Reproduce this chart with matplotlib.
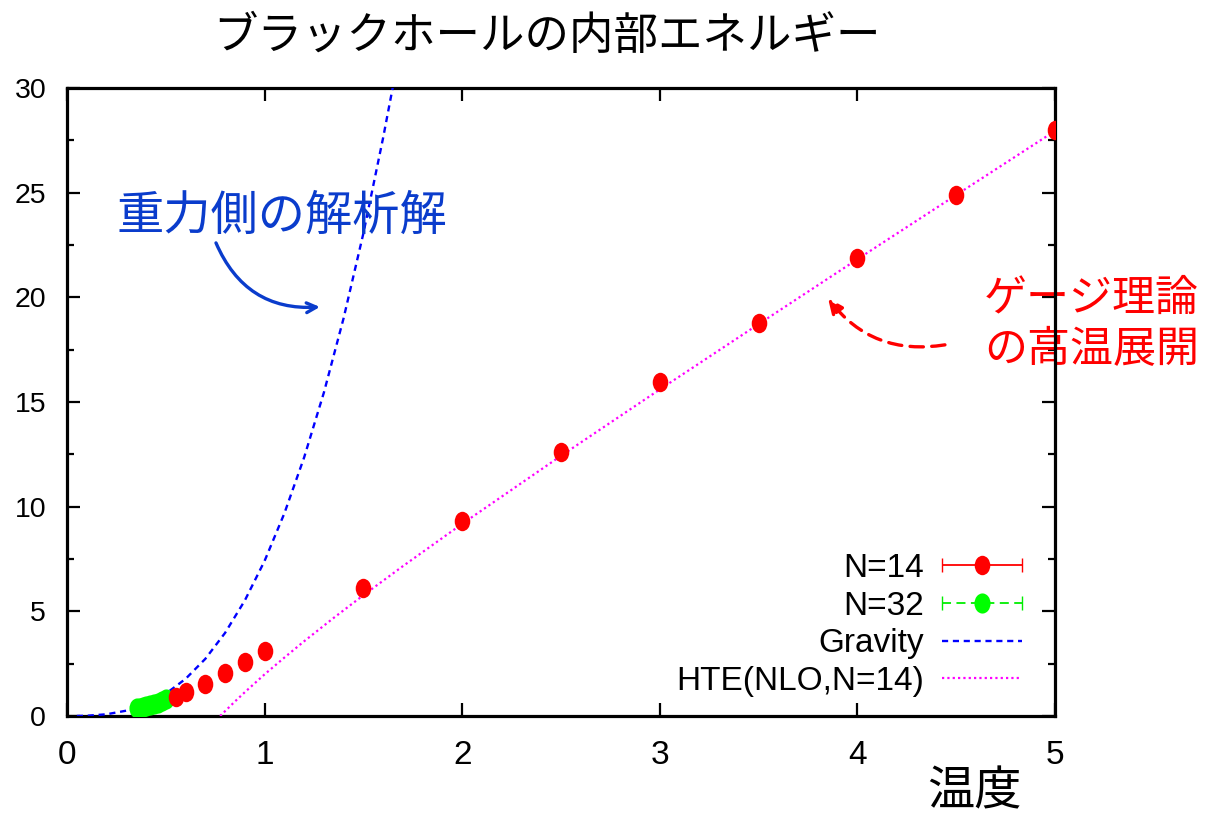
"""Internal energy of the black hole vs temperature: lattice data, gravity and HTE curves."""

import matplotlib
matplotlib.use("Agg")
import matplotlib.pyplot as plt
from matplotlib.path import Path
from matplotlib.legend_handler import HandlerErrorbar
from matplotlib.container import ErrorbarContainer
from matplotlib.ticker import MultipleLocator

JP_FONT = ["Noto Sans CJK JP", "DejaVu Sans"]
NARROW = ["Liberation Sans Narrow", "Liberation Sans", "DejaVu Sans"]
PLAIN = ["Liberation Sans", "DejaVu Sans"]

# lattice results
temp_n14 = [0.55, 0.6, 0.7, 0.8, 0.9, 1.0, 1.5, 2.0, 2.5, 3.0, 3.5, 4.0, 4.5, 5.0]
energy_n14 = [0.92, 1.16, 1.53, 2.04, 2.56, 3.12, 6.1, 9.32, 12.6, 15.94, 18.76, 21.87, 24.89, 27.97]

temp_n32 = [0.355, 0.37, 0.385, 0.40, 0.42, 0.44, 0.46, 0.48, 0.50]
energy_n32 = [0.36, 0.40, 0.44, 0.48, 0.53, 0.58, 0.64, 0.71, 0.79]

# gravity-side analytic curve
temp_grav = [0.05, 0.1, 0.2, 0.3, 0.4, 0.5, 0.6, 0.7, 0.8, 0.9, 1.0,
             1.1, 1.2, 1.3, 1.4, 1.5, 1.6, 1.65, 1.7]
energy_grav = [0.002, 0.012, 0.082, 0.255, 0.569, 1.064, 1.773, 2.73, 3.97, 5.52, 7.41,
               9.68, 12.35, 15.45, 19.01, 23.06, 27.63, 30.1, 32.8]

# high temperature expansion (NLO, N=14)
temp_hte = [0.775, 0.85, 0.9, 1.0, 1.1, 1.2, 1.35, 1.5, 1.7, 2.0, 2.5, 3.0, 3.5, 4.0, 4.5, 5.0]
energy_hte = [0.0, 0.695, 1.138, 1.99, 2.79, 3.57, 4.69, 5.77, 7.16, 9.18, 12.43, 15.6,
              18.72, 21.82, 24.89, 27.95]

x_ticks = [0, 1, 2, 3, 4, 5]
y_ticks = [0, 5, 10, 15, 20, 25, 30]

# slightly tall ellipse for the data points
_circle = Path.unit_circle()
DOT = Path(_circle.vertices * [0.8, 1.0], _circle.codes)

fig = plt.figure(figsize=(12.25, 8.16), dpi=100)
ax = fig.add_axes([67 / 1225, 1 - 716 / 816, (1055 - 67) / 1225, (716 - 88) / 816])

# horizontal error bars (zero width at the points, caps hidden under the dots)
eb32 = ax.errorbar(temp_n32, energy_n32, xerr=[0.0] * len(temp_n32), fmt="none",
                   ecolor="#00ee00", elinewidth=1.3, capsize=5, zorder=4)
eb14 = ax.errorbar(temp_n14, energy_n14, xerr=[0.0] * len(temp_n14), fmt="none",
                   ecolor="#ff0000", elinewidth=1.3, capsize=5, zorder=4)
eb32[2][0].set_linestyle((0, (5, 3)))

grav, = ax.plot(temp_grav, energy_grav, color="#0000ff", linewidth=1.7,
                linestyle=(0, (2.6, 2.0)), zorder=3)
hte, = ax.plot(temp_hte, energy_hte, color="#ff00ff", linewidth=1.6,
               linestyle=(0, (1, 1.4)), zorder=3)

dots32, = ax.plot(temp_n32, energy_n32, linestyle="none", marker=DOT, markersize=14.5,
                  color="#00ff00", markeredgewidth=0, zorder=5)
dots14, = ax.plot(temp_n14, energy_n14, linestyle="none", marker=DOT, markersize=14,
                  color="#ff0000", markeredgewidth=0, zorder=5)

# legend entries: bar with caps plus the dot
h14 = ErrorbarContainer((dots14, eb14[1], eb14[2]), has_xerr=True, has_yerr=False)
h32 = ErrorbarContainer((dots32, eb32[1], eb32[2]), has_xerr=True, has_yerr=False)

leg = ax.legend([h14, h32, grav, hte], ["N=14", "N=32", "Gravity", "HTE(NLO,N=14)"],
                loc="lower right", bbox_to_anchor=(1022 / 1225, 1 - 697 / 816),
                bbox_transform=fig.transFigure, frameon=False, markerfirst=False,
                handlelength=2.4, handletextpad=0.55, labelspacing=0.2,
                borderpad=0.0, borderaxespad=0.0,
                prop={"family": NARROW, "size": 24},
                handler_map={ErrorbarContainer: HandlerErrorbar(numpoints=1, xerr_size=1.2)})

ax.set_xlim(0, 5)
ax.set_ylim(0, 30)
ax.set_xticks(x_ticks, [str(v) for v in x_ticks], fontsize=24, family=NARROW)
ax.set_yticks(y_ticks, [str(v) for v in y_ticks], fontsize=20.5, family=PLAIN)
ax.yaxis.set_minor_locator(MultipleLocator(2.5))

ax.tick_params(axis="both", which="both", direction="in", top=True, right=True,
               color="black")
ax.tick_params(axis="both", which="major", length=9.5, width=1.6)
ax.tick_params(axis="both", which="minor", length=5, width=1.6)
ax.tick_params(axis="y", pad=15)
ax.tick_params(axis="x", pad=17)

for spine in ax.spines.values():
    spine.set_linewidth(2.3)

fig.text(547 / 1225, 1 - 36 / 816, "ブラックホールの内部エネルギー", family=JP_FONT,
         fontsize=32, ha="center", va="center")
fig.text(974 / 1225, 1 - 792 / 816, "温度", family=JP_FONT, fontsize=34,
         ha="center", va="center")

# gravity label with curved arrow
ax.text(0.253, 23.85, "重力側の解析解", family=JP_FONT, fontsize=34,
        color="#0a3ccc", ha="left", va="center")
ax.annotate("", xy=(1.28, 19.54), xytext=(0.754, 22.6),
            arrowprops=dict(arrowstyle="->,head_length=0.7,head_width=0.35",
                            color="#0a3ccc", linewidth=2.4,
                            connectionstyle="arc3,rad=0.35", shrinkA=0, shrinkB=0))

# HTE label with dashed arrow
ax.text(4.64, 18.72, "ゲージ理論\nの高温展開", family=JP_FONT, fontsize=31,
        color="#ff0000", ha="left", va="center", linespacing=1.22,
        clip_on=False, zorder=2)
ax.annotate("", xy=(3.851, 19.97), xytext=(4.443, 17.73),
            arrowprops=dict(arrowstyle="-|>,head_length=0.9,head_width=0.4",
                            color="#ff0000", linewidth=2.4, linestyle=(0, (4, 2.5)),
                            connectionstyle="arc3,rad=-0.3", shrinkA=0, shrinkB=0))

fig.savefig("out.png", dpi=100)
